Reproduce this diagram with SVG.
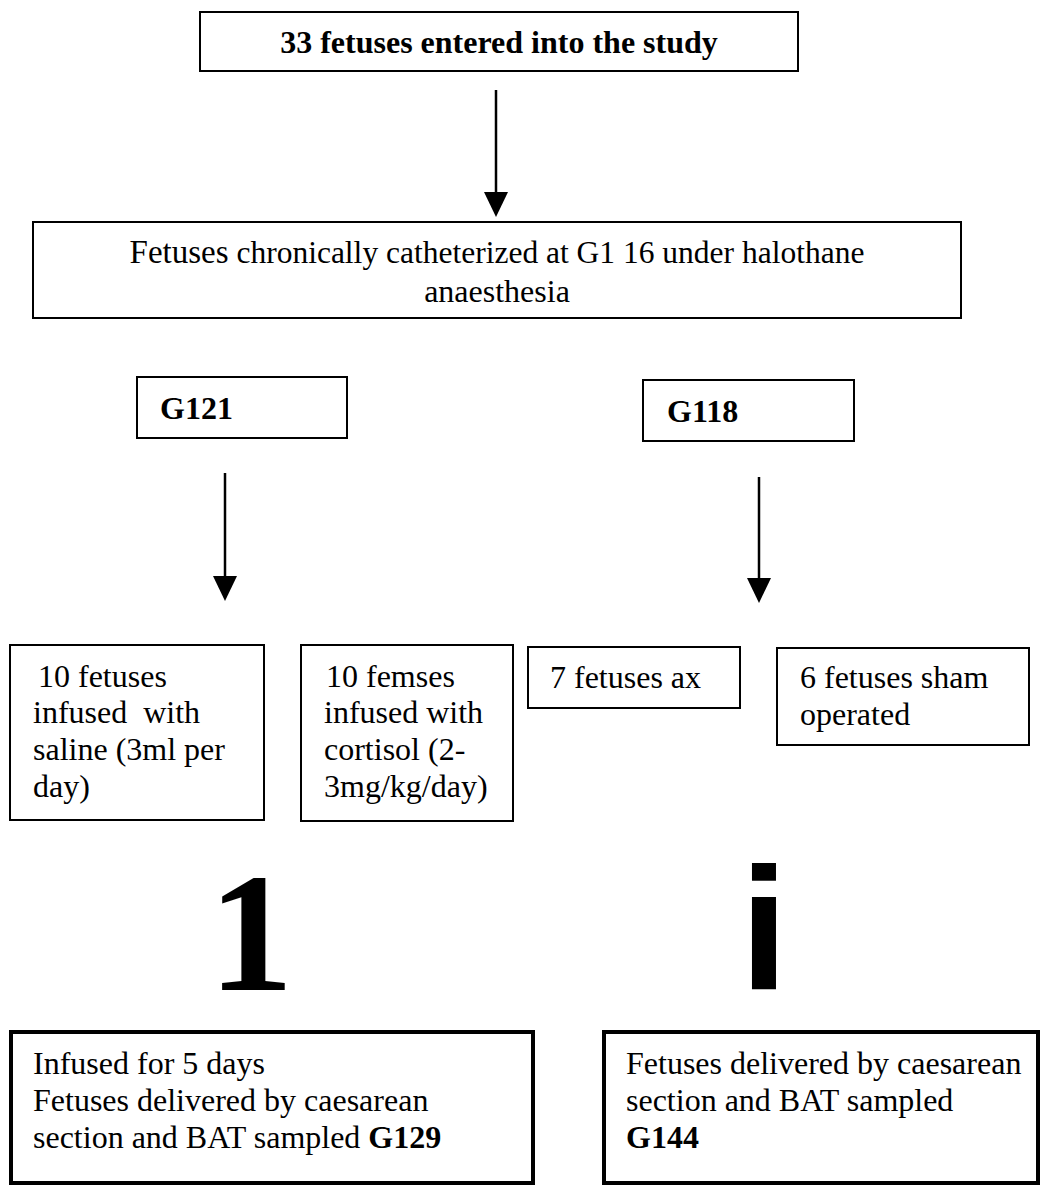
<svg xmlns="http://www.w3.org/2000/svg" width="1040" height="1186" viewBox="0 0 1040 1186">
<style>
  .box { fill: #fff; stroke: #000; stroke-width: 2; }
  .thick { fill: #fff; stroke: #000; stroke-width: 4; }
  .t { font-family: "Liberation Serif", "Times New Roman", serif; fill: #000; }
  .s32 { font-size: 32px; }
  .s33 { font-size: 33px; }
  .s31 { font-size: 31.5px; }
  .b { font-weight: bold; }
  .conn { stroke: #000; stroke-width: 2.5; fill: none; }
</style>
<rect width="1040" height="1186" fill="#fff"/>

<g id="connectors">
  <line class="conn" x1="496" y1="90" x2="496" y2="192"/>
  <path d="M484,192 L508,192 L496,217 Z" fill="#000"/>
  <line class="conn" x1="225" y1="473" x2="225" y2="576"/>
  <path d="M213,576 L237,576 L225,601 Z" fill="#000"/>
  <line class="conn" x1="759" y1="477" x2="759" y2="578"/>
  <path d="M747,578 L771,578 L759,603 Z" fill="#000"/>
</g>

<g id="n-start">
  <rect class="box" x="200" y="12" width="598" height="59"/>
  <text class="t s32 b" x="499" y="53" text-anchor="middle">33 fetuses entered into the study</text>
</g>

<g id="n-catheter">
  <rect class="box" x="33" y="222" width="928" height="96"/>
  <text class="t s31" x="497" y="263" text-anchor="middle"><tspan class="s33">Fetuses</tspan> chronically catheterized at G1 16 under halothane</text>
  <text class="t s32" x="497" y="302" text-anchor="middle">anaesthesia</text>
</g>

<g id="n-g121">
  <rect class="box" x="137" y="377" width="210" height="61"/>
  <text class="t s32 b" x="160" y="419">G121</text>
</g>

<g id="n-g118">
  <rect class="box" x="643" y="380" width="211" height="61"/>
  <text class="t s32 b" x="667" y="422">G118</text>
</g>

<g id="n-saline">
  <rect class="box" x="10" y="645" width="254" height="175"/>
  <text class="t s32" x="38" y="687">10 fetuses</text>
  <text class="t s32" x="33" y="723" xml:space="preserve">infused  with</text>
  <text class="t s32" x="33" y="760">saline (3ml per</text>
  <text class="t s32" x="33" y="797">day)</text>
</g>

<g id="n-cortisol">
  <rect class="box" x="301" y="645" width="212" height="176"/>
  <text class="t s32" x="326" y="687">10 femses</text>
  <text class="t s32" x="324" y="723">infused with</text>
  <text class="t s32" x="324" y="760">cortisol (2-</text>
  <text class="t s32" x="324" y="797">3mg/kg/day)</text>
</g>

<g id="n-ax">
  <rect class="box" x="528" y="647" width="212" height="61"/>
  <text class="t s32" x="550" y="688">7 fetuses ax</text>
</g>

<g id="n-sham">
  <rect class="box" x="777" y="648" width="252" height="97"/>
  <text class="t s32" x="800" y="688">6 fetuses sham</text>
  <text class="t s32" x="800" y="725">operated</text>
</g>

<g id="glyph-1">
  <text class="t b" x="251" y="990" text-anchor="middle" style="font-size:170px">1</text>
</g>

<g id="glyph-i">
  <text x="764" y="990" text-anchor="middle" style="font-family:'Liberation Sans', Arial, sans-serif; font-weight:bold; font-size:175px">i</text>
</g>

<g id="n-g129">
  <rect class="thick" x="11" y="1032" width="522" height="151"/>
  <text class="t s32" x="33" y="1074">Infused for 5 days</text>
  <text class="t s32" x="33" y="1111">Fetuses delivered by caesarean</text>
  <text class="t s32" x="33" y="1148">section and BAT sampled <tspan class="b">G129</tspan></text>
</g>

<g id="n-g144">
  <rect class="thick" x="604" y="1032" width="434" height="151"/>
  <text class="t s32" x="626" y="1074">Fetuses delivered by caesarean</text>
  <text class="t s32" x="626" y="1111">section and BAT sampled</text>
  <text class="t s32 b" x="626" y="1148">G144</text>
</g>
</svg>
